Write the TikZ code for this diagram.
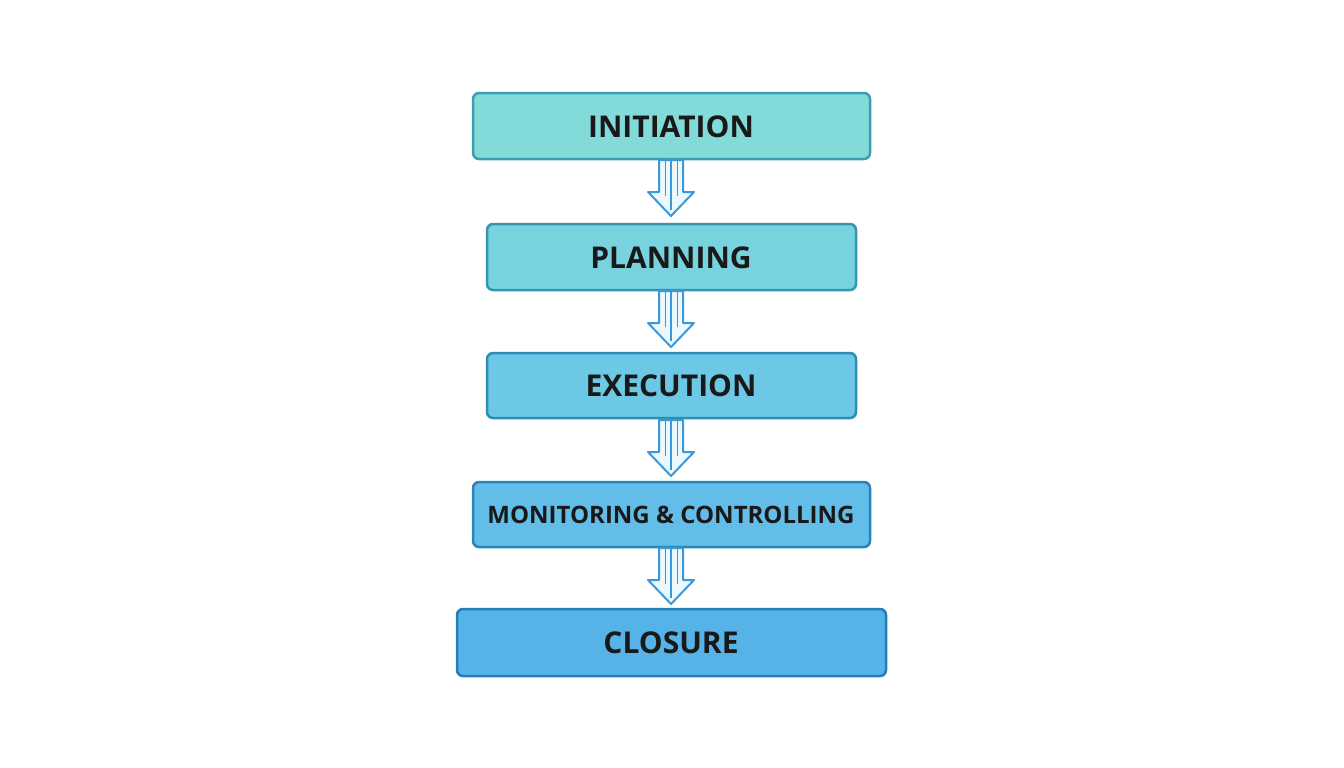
\documentclass[tikz,border=0pt]{standalone}
\usepackage{fontspec}
\setmainfont{Open Sans}
\begin{document}
\begin{tikzpicture}[x=1pt,y=-1pt,
 box/.style={draw=#1!75!black, line width=2.5pt, rounded corners=5pt, inner sep=0pt},
 lbl/.style={font=\bfseries\fontsize{30}{30}\selectfont, text=black!90},
 arr/.style={draw=cyan!70!blue!80, line width=2pt, fill=cyan!8, line join=round}]
\useasboundingbox (0,0) rectangle (1344,768);
\definecolor{c1}{HTML}{82DAD9}\definecolor{c2}{HTML}{78D3DE}\definecolor{c3}{HTML}{6CC8E4}
\definecolor{c4}{HTML}{62BEE8}\definecolor{c5}{HTML}{55B3E7}
\definecolor{b1}{HTML}{3A9FAE}\definecolor{b2}{HTML}{3596AE}\definecolor{b3}{HTML}{2F8CB2}
\definecolor{b4}{HTML}{2A85B6}\definecolor{b5}{HTML}{257CB8}
\newcommand{\bx}[7]{\draw[draw=#6,line width=2.5pt,rounded corners=6pt,fill=#5] (#1,#2) rectangle (#3,#4);
 \node[lbl] (#7) at ({(#1+#3)/2},{(#2+#4)/2+1}) {};}
\draw[draw=b1,line width=2.5pt,rounded corners=6pt,fill=c1] (473,93) rectangle (870,159);
\node[lbl] (n1) at (671,127) {INITIATION};
\draw[draw=b2,line width=2.5pt,rounded corners=6pt,fill=c2] (487,224) rectangle (856,290);
\node[lbl] (n2) at (671,258) {PLANNING};
\draw[draw=b3,line width=2.5pt,rounded corners=6pt,fill=c3] (487,353) rectangle (856,418);
\node[lbl] (n3) at (671,386) {EXECUTION};
\draw[draw=b4,line width=2.5pt,rounded corners=6pt,fill=c4] (473,482) rectangle (870,547);
\node[lbl,font=\bfseries\fontsize{24}{24}\selectfont] (n4) at (671,515) {MONITORING \& CONTROLLING};
\draw[draw=b5,line width=2.5pt,rounded corners=6pt,fill=c5] (457,609) rectangle (886,676);
\node[lbl] (n5) at (671,643) {CLOSURE};
\foreach \t in {160,291,420,548}{
 \draw[arr] (659,\t) -- (659,\t+32) -- (648,\t+32) -- (671,\t+56) -- (694,\t+32) -- (683,\t+32) -- (683,\t) -- cycle;
 \draw[draw=cyan!70!blue!80, line width=1.5pt] (671,\t) -- (671,\t+50);
 \draw[draw=cyan!70!blue!80, line width=1pt] (665,\t) -- (665,\t+36) (677,\t) -- (677,\t+36);
}
\end{tikzpicture}
\end{document}
